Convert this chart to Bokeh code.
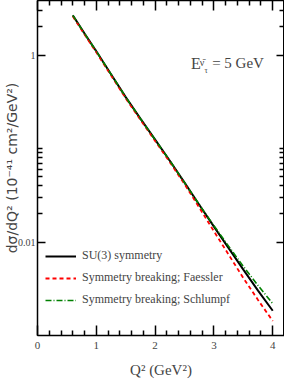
from bokeh.plotting import figure
from bokeh.models import FixedTicker, LinearAxis, LogAxis, Range1d, Label, Legend
from bokeh.embed import file_html
from bokeh.resources import INLINE

# ---- data ----
q2 = [0.6, 0.8, 1.0, 1.25, 1.5, 1.75, 2.0, 2.25, 2.5, 2.75, 3.0, 3.25, 3.5, 3.75, 4.0]
su3 = [2.66, 1.70, 1.10, 0.624, 0.355, 0.209, 0.1245, 0.0741, 0.0432, 0.0251,
       0.01462, 0.00861, 0.00507, 0.00302, 0.00184]
faessler = [2.60, 1.66, 1.07, 0.607, 0.345, 0.203, 0.1205, 0.0716, 0.0417, 0.0234,
            0.01303, 0.00733, 0.00412, 0.00240, 0.00143]
schlumpf = [2.66, 1.70, 1.10, 0.624, 0.355, 0.209, 0.1245, 0.0741, 0.0432, 0.0251,
            0.01496, 0.00901, 0.00549, 0.00343, 0.00219]
labels = ["SU(3) symmetry", "Symmetry breaking; Faessler", "Symmetry breaking; Schlumpf"]

x_major = [0, 1, 2, 3, 4]
x_minor = [0.2, 0.4, 0.6, 0.8, 1.2, 1.4, 1.6, 1.8, 2.2, 2.4, 2.6, 2.8,
           3.2, 3.4, 3.6, 3.8, 4.2]
y_major = [0.01, 1]
y_minor = [3, 2, 0.1, 0.09, 0.08, 0.07, 0.06, 0.05, 0.04, 0.03, 0.02]

SERIF = "Liberation Serif"

p = figure(width=284, height=382, y_axis_type="log",
           x_range=Range1d(0, 4.2), y_range=Range1d(0.001, 3.84),
           output_backend="svg", toolbar_location=None,
           min_border_left=0, min_border_right=0, min_border_top=0, min_border_bottom=47)
p.grid.visible = False
p.outline_line_color = "black"
p.background_fill_color = "white"

xt = FixedTicker(ticks=x_major, minor_ticks=x_minor)
yt = FixedTicker(ticks=y_major, minor_ticks=y_minor)

def style(ax, major_in):
    ax.major_tick_in = major_in
    ax.major_tick_out = 0
    ax.minor_tick_in = 5
    ax.minor_tick_out = 0
    ax.axis_line_width = 1.5
    ax.major_tick_line_width = 1.5
    ax.minor_tick_line_width = 1.5
    ax.axis_line_color = "black"
    ax.major_tick_line_color = "black"
    ax.minor_tick_line_color = "black"

xa = p.xaxis[0]
xa.ticker = xt
style(xa, 10)
xa.major_label_text_font = SERIF
xa.major_label_text_font_size = "11px"
xa.major_label_standoff = 6
xa.axis_label = "Q² (GeV²)"
xa.axis_label_text_font = SERIF
xa.axis_label_text_font_size = "15px"
xa.axis_label_text_font_style = "normal"
xa.axis_label_standoff = 10

ya = p.yaxis[0]
ya.ticker = yt
style(ya, 8)
ya.major_label_overrides = {0.01: "0.01", 1: "1"}
ya.major_label_text_font = SERIF
ya.major_label_text_font_size = "10px"
ya.major_label_standoff = 2
ya.axis_label = "dσ/dQ² (10⁻⁴¹ cm²/GeV²)"
ya.axis_label_text_font = "DejaVu Sans"
ya.axis_label_text_font_size = "14px"
ya.axis_label_text_font_style = "normal"
ya.axis_label_standoff = -5

top = LinearAxis(ticker=xt, major_label_standoff=0,
                 major_label_overrides={t: "" for t in x_major})
style(top, 10)
p.add_layout(top, "above")
right = LogAxis(ticker=yt, major_label_standoff=0,
                major_label_overrides={t: "" for t in y_major})
style(right, 8)
p.add_layout(right, "right")

r1 = p.line(q2, su3, line_color="black", line_width=2)
r2 = p.line(q2, faessler, line_color="#ff0000", line_width=1.8, line_dash="4 3")
r3 = p.line(q2, schlumpf, line_color="#008000", line_width=1.6, line_dash="6 2 1 2")

leg = Legend(items=[(labels[0], [r1]), (labels[1], [r2]), (labels[2], [r3])],
             location=(8, 28), border_line_color=None, background_fill_alpha=0,
             padding=0, margin=0, spacing=7, glyph_width=31, glyph_height=14,
             label_height=14, label_standoff=6,
             label_text_font=SERIF, label_text_font_size="12px")
p.add_layout(leg, "center")

p.add_layout(Label(x=2.61, y=0.82, text="E", text_font=SERIF, text_font_size="16px",
                   text_baseline="alphabetic"))
p.add_layout(Label(x=2.76, y=0.84, text="ν̄", text_font=SERIF, text_font_size="10px",
                   text_baseline="alphabetic"))
p.add_layout(Label(x=2.84, y=0.69, text="τ", text_font=SERIF, text_font_size="8px",
                   text_baseline="alphabetic"))
p.add_layout(Label(x=2.97, y=0.82, text="= 5 GeV", text_font=SERIF, text_font_size="15px",
                   text_baseline="alphabetic"))

open("out.html", "w").write(file_html(p, INLINE))
